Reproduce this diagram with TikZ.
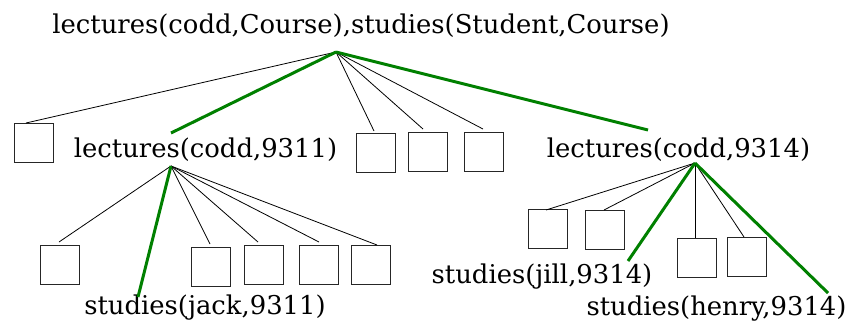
\documentclass[tikz,border=0pt]{standalone}
\usepackage{fontspec}
\setmainfont{DejaVu Serif}
\definecolor{pathgreen}{RGB}{0,128,0}
\tikzset{
  term/.style={anchor=base, inner sep=0pt, font=\fontsize{25.85}{30}\selectfont},
  leaf/.style={draw=black!85, line width=0.9pt, minimum size=39pt, inner sep=0pt, anchor=north west},
  edge/.style={line width=0.8pt, black},
  success/.style={line width=3pt, pathgreen},
}
\begin{document}
\begin{tikzpicture}[x=1pt, y=-1pt]
\useasboundingbox (0,0) rectangle (851,327);

% goal and resolvents
\node[term] (goal) at (361,33) {lectures(codd,Course),studies(Student,Course)};
\node[term] (l9311) at (205.5,157) {lectures(codd,9311)};
\node[term] (l9314) at (678.5,157) {lectures(codd,9314)};
\node[term] (sjack) at (205,314) {studies(jack,9311)};
\node[term] (sjill) at (542,283) {studies(jill,9314)};
\node[term] (shenry) at (716.5,315) {studies(henry,9314)};

% branching points
\coordinate (r0) at (336,52);
\coordinate (r1) at (171,166);
\coordinate (r2) at (695,163);

% failed branches (empty boxes)
\node[leaf] (a1) at (14,123) {};
\node[leaf] (a2) at (356,133) {};
\node[leaf] (a3) at (408,132) {};
\node[leaf] (a4) at (464,132) {};

\node[leaf] (b1) at (40,245) {};
\node[leaf] (b2) at (191,247) {};
\node[leaf] (b3) at (244,245) {};
\node[leaf] (b4) at (299,245) {};
\node[leaf] (b5) at (351,245) {};

\node[leaf] (c1) at (528,209) {};
\node[leaf] (c2) at (585,210) {};
\node[leaf] (c3) at (677,238) {};
\node[leaf] (c4) at (727,237) {};

% edge end points
\coordinate (ea1) at (26,123);
\coordinate (ea2) at (374,131);
\coordinate (ea3) at (423,129);
\coordinate (ea4) at (483,129);
\coordinate (e9311) at (171,133);
\coordinate (e9314) at (648,130);

\coordinate (eb1) at (59,242);
\coordinate (eb2) at (210,244);
\coordinate (eb3) at (258,242);
\coordinate (eb4) at (319,242);
\coordinate (eb5) at (377,245);
\coordinate (ejack) at (138,297);

\coordinate (ec1) at (546,210);
\coordinate (ec2) at (604,210);
\coordinate (ec3) at (695,238);
\coordinate (ec4) at (744,237);
\coordinate (ejill) at (628,261);
\coordinate (ehenry) at (828,293);

% edges from the goal
\foreach \t in {ea1,ea2,ea3,ea4} \draw[edge] (r0) -- (\t);
\draw[success] (r0) -- (e9311);
\draw[success] (r0) -- (e9314);

% edges from lectures(codd,9311)
\foreach \t in {eb1,eb2,eb3,eb4,eb5} \draw[edge] (r1) -- (\t);
\draw[success] (r1) -- (ejack);

% edges from lectures(codd,9314)
\foreach \t in {ec1,ec2,ec3,ec4} \draw[edge] (r2) -- (\t);
\draw[success] (r2) -- (ejill);
\draw[success] (r2) -- (ehenry);
\end{tikzpicture}
\end{document}
